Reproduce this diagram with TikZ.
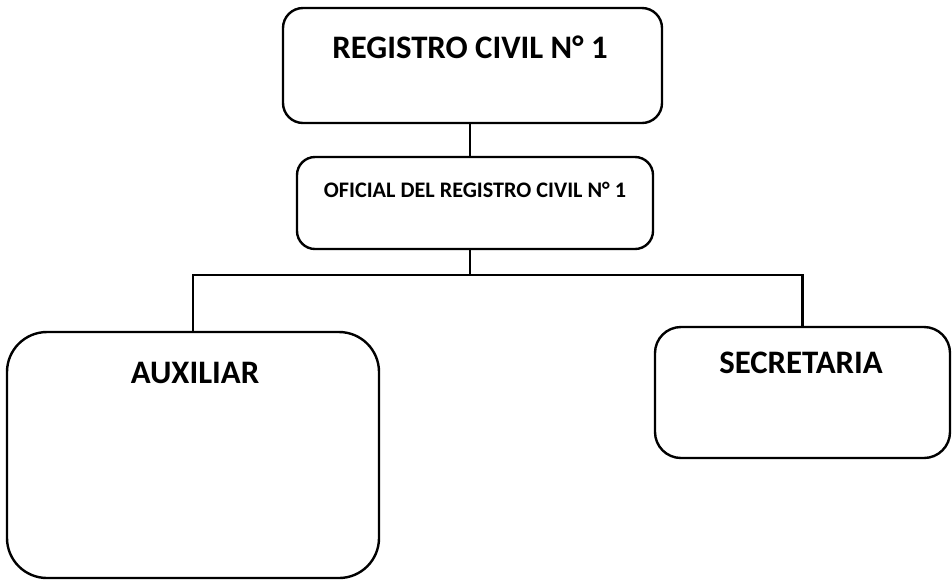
\documentclass[tikz,border=0pt]{standalone}
\usepackage{fontspec}
\setmainfont{Carlito}
\begin{document}
\begin{tikzpicture}[x=0.5pt,y=-0.5pt,
  box/.style={draw=black,line width=1.2pt,rounded corners=#1,inner sep=0pt,outer sep=0pt},
  big/.style={font=\bfseries\fontsize{16.4}{18}\selectfont,inner sep=0pt},
  small/.style={font=\bfseries\fontsize{11.1}{13}\selectfont,inner sep=0pt},
  link/.style={draw=black,line width=1.4pt}]
\useasboundingbox[fill=white] (0,0) rectangle (952,580);
\node[box=10pt,minimum width=189.5pt,minimum height=57.5pt] (reg) at (472.5,65.5) {};
\node[big] (regt) at (470,47) {REGISTRO CIVIL N° 1};
\node[box=9pt,minimum width=178pt,minimum height=46pt] (ofi) at (475,203) {};
\node[small] (ofit) at (475,190) {OFICIAL DEL REGISTRO CIVIL N° 1};
\node[box=20pt,minimum width=186pt,minimum height=123pt] (aux) at (193,455) {};
\node[big] (auxt) at (195,373) {AUXILIAR};
\node[box=13pt,minimum width=147.5pt,minimum height=65.5pt] (sec) at (802.5,392.5) {};
\node[big] (sect) at (801,363) {SECRETARIA};
\coordinate (bus) at (470,275);
\draw[link] (bus |- reg.south) -- (bus |- ofi.north);
\draw[link] (bus |- ofi.south) -- (bus);
\draw[link] (aux.north) |- (bus) -| (sec.north);
\end{tikzpicture}
\end{document}
